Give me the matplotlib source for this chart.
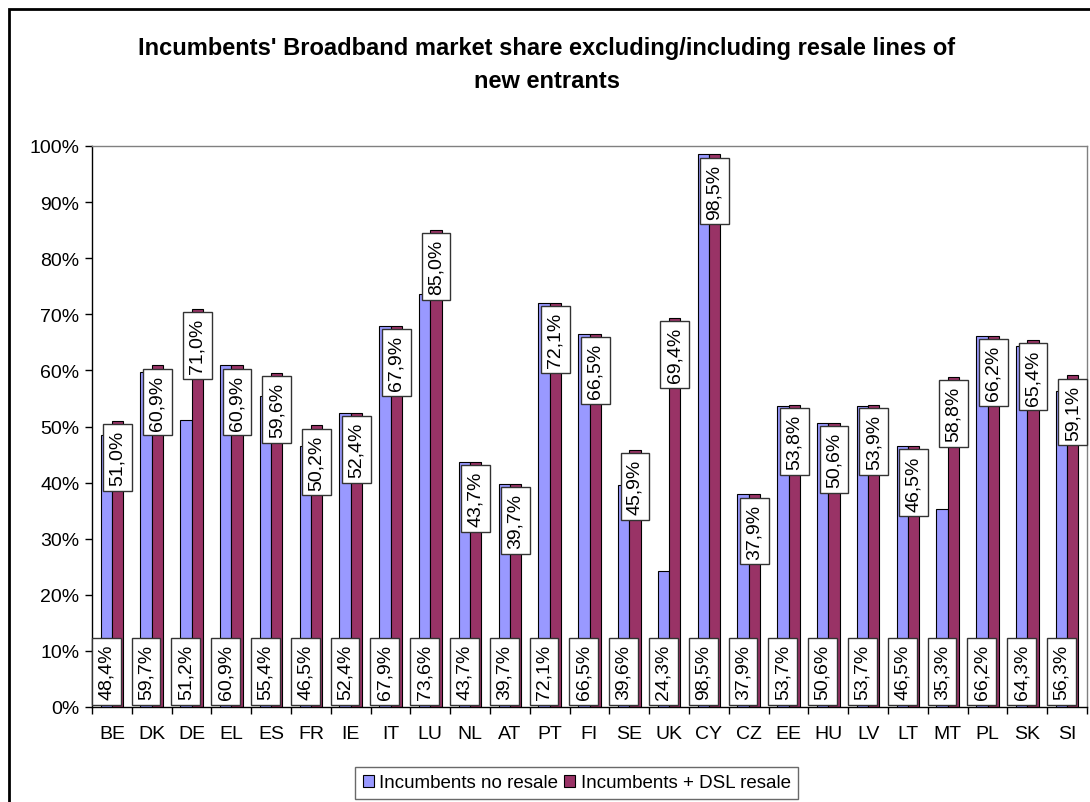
import numpy as np
import matplotlib.pyplot as plt
from matplotlib.patches import Patch, Rectangle

plt.rcParams['font.family'] = ['Liberation Sans', 'DejaVu Sans']

# Data
countries = ['BE', 'DK', 'DE', 'EL', 'ES', 'FR', 'IE', 'IT', 'LU', 'NL', 'AT', 'PT', 'FI',
             'SE', 'UK', 'CY', 'CZ', 'EE', 'HU', 'LV', 'LT', 'MT', 'PL', 'SK', 'SI']
no_resale = [48.4, 59.7, 51.2, 60.9, 55.4, 46.5, 52.4, 67.9, 73.6, 43.7, 39.7, 72.1, 66.5,
             39.6, 24.3, 98.5, 37.9, 53.7, 50.6, 53.7, 46.5, 35.3, 66.2, 64.3, 56.3]
with_resale = [51.0, 60.9, 71.0, 60.9, 59.6, 50.2, 52.4, 67.9, 85.0, 43.7, 39.7, 72.1, 66.5,
               45.9, 69.4, 98.5, 37.9, 53.8, 50.6, 53.9, 46.5, 58.8, 66.2, 65.4, 59.1]

blue = '#9999FF'
purple = '#993366'

fig = plt.figure(figsize=(10.9, 8.03), dpi=100)
ax = fig.add_axes([92 / 1090, 1 - 708 / 803, (1087 - 92) / 1090, (708 - 147) / 803])

n = len(countries)
x = np.arange(n) + 0.5
w = 1 / 3.5
ax.bar(x - w / 2, no_resale, w, color=blue, edgecolor='black', linewidth=0.8,
       label='Incumbents no resale', zorder=2)
ax.bar(x + w / 2, with_resale, w, color=purple, edgecolor='black', linewidth=0.8,
       label='Incumbents + DSL resale', zorder=2)

def fmt(v):
    return f'{v:.1f}%'.replace('.', ',')

box = dict(boxstyle='square,pad=0.3', fc='white', ec='#333333', lw=1)
for xi, a, b in zip(x, no_resale, with_resale):
    ax.annotate(fmt(b), xy=(xi + w / 2, b), xytext=(0, -6.5), textcoords='offset points',
                rotation=90, ha='center', va='top', fontsize=14, bbox=box,
                zorder=3, annotation_clip=False)
    ax.annotate(fmt(a), xy=(xi - w / 2, 0), xytext=(0, 5.8), textcoords='offset points',
                rotation=90, ha='center', va='bottom', fontsize=14, bbox=box,
                zorder=3, annotation_clip=False)

ax.set_xlim(0, n)
ax.set_ylim(0, 100)
ax.set_yticks(np.arange(0, 101, 10))
ax.set_yticklabels([f'{v}%' for v in range(0, 101, 10)], fontsize=14)
ax.set_xticks(np.arange(n + 1))
ax.set_xticklabels([])
ax.set_xticks(x, minor=True)
ax.set_xticklabels(countries, minor=True, fontsize=14)
ax.tick_params(axis='x', which='minor', length=0, pad=13)
ax.tick_params(axis='x', which='major', length=5, direction='out', width=1)
ax.tick_params(axis='y', length=5, direction='out', width=1, pad=4)

for s in ['top', 'right']:
    ax.spines[s].set_color('#808080')
    ax.spines[s].set_linewidth(1)
for s in ['left', 'bottom']:
    ax.spines[s].set_color('black')
    ax.spines[s].set_linewidth(1)

fig.text(0.5014, 1 - 48 / 803,
         "Incumbents' Broadband market share excluding/including resale lines of",
         ha='center', va='center', fontsize=17, fontweight='bold')
fig.text(0.5014, 1 - 82 / 803, 'new entrants',
         ha='center', va='center', fontsize=17, fontweight='bold')

handles = [Patch(facecolor=blue, edgecolor='black', linewidth=0.8),
           Patch(facecolor=purple, edgecolor='black', linewidth=0.8)]
leg = fig.legend(handles, ['Incumbents no resale', 'Incumbents + DSL resale'],
                 loc='upper left', bbox_to_anchor=(355 / 1090, 1 - 768 / 803),
                 ncol=2, fontsize=13.5, frameon=True, fancybox=False,
                 handlelength=0.6, handleheight=0.6, handletextpad=0.3,
                 columnspacing=0.3, borderpad=0.4, borderaxespad=0)
leg.get_frame().set_edgecolor('#444444')
leg.get_frame().set_linewidth(1)

# outer chart border (runs off the right and bottom edges)
fig.patches.append(Rectangle((9 / 1090, -0.1), 1.2, 1 - 10 / 803 + 0.1,
                             transform=fig.transFigure, fill=False,
                             edgecolor='black', linewidth=2))

fig.savefig('out.png', dpi=100)
